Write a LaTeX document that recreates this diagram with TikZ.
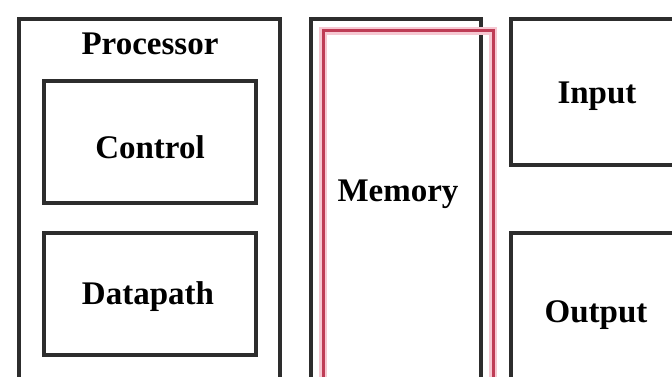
\documentclass[tikz,border=0pt]{standalone}
\usepackage{fontspec}
\setmainfont{Liberation Serif}
\begin{document}
\begin{tikzpicture}[x=1pt,y=-1pt,
  unitbox/.style={draw={rgb,255:red,45;green,45;blue,45}, line width=4.5pt},
  memframe/.style={draw={rgb,255:red,190;green,60;blue,85}, line width=3pt},
  memhalo/.style={draw={rgb,255:red,246;green,200;blue,210}, line width=8pt},
  lbl/.style={font=\fontsize{33}{36}\selectfont\bfseries, anchor=base, inner sep=0pt}]
\useasboundingbox (0,0) rectangle (672,377);
\fill[white] (0,0) rectangle (672,377);
\begin{scope}
\clip (0,0) rectangle (672,377);
% processor enclosure with its two units
\draw[unitbox] (19,19) rectangle (280,400);
\draw[unitbox] (44,81) rectangle (256,203);
\draw[unitbox] (44,233) rectangle (256,355);
% memory, with its highlighted outline
\draw[unitbox] (311,19) rectangle (481,400);
\draw[memhalo] (323,31) rectangle (493,400);
\draw[memframe] (323,31) rectangle (493,400);
% input and output devices
\draw[unitbox] (511,19) rectangle (700,165);
\draw[unitbox] (511,233) rectangle (700,400);
\end{scope}
\node[lbl] (processor) at (150,55) {Processor};
\node[lbl] (control) at (150,158) {Control};
\node[lbl] (datapath) at (148,304) {Datapath};
\node[lbl] (memory) at (398,201) {Memory};
\node[lbl] (input) at (597,104) {Input};
\node[lbl] (output) at (596,322) {Output};
\end{tikzpicture}
\end{document}
